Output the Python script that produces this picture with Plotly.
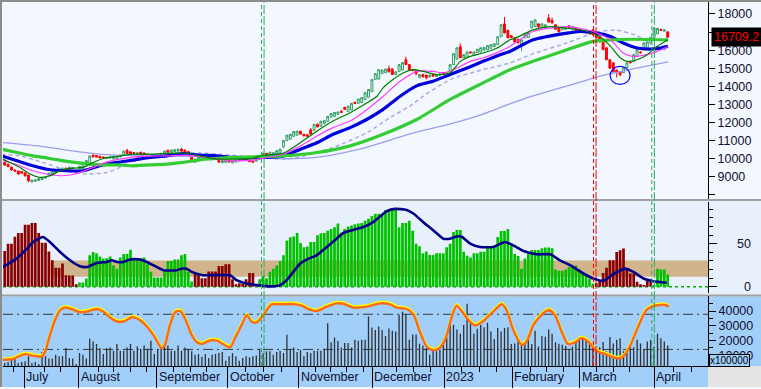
import plotly.graph_objects as go

# ------------------------------------------------------------------ data
open_ = [
9810,9700,9540,9380,9320,9300,9220,9100,8720,8760,
8800,8850,8930,9050,9100,9250,9330,9380,9480,9430,
9450,9320,9440,9450,9600,9700,10200,10180,10140,10100,
10020,10040,9990,10000,10100,10200,10470,10380,10340,10250,
10360,10320,10180,10230,10150,10180,10220,10200,10470,10360,
10400,10420,10530,10480,10400,10090,9810,9980,10000,10120,
10000,10040,10060,9920,9780,9800,9900,9770,9820,9880,
10000,10020,9900,9880,9870,10000,10140,10300,10200,10250,
10300,10350,10640,11000,11080,11240,11300,11520,11350,11330,
11600,11570,11900,11800,11950,12070,12300,12340,12450,12620,
12840,12620,12700,13120,13060,13100,13270,13400,13710,14370,
14400,14700,14750,14980,14950,14650,14810,14900,15470,15200,
14920,14870,14480,14650,14620,14520,14650,14550,14600,14760,
14600,14650,15200,15500,16190,15580,15600,15900,15700,15860,
15900,16000,16020,16100,16200,16300,16740,17450,17100,16800,
16680,16600,16300,16680,16700,17230,17300,17450,17230,17250,
17780,17650,17400,17250,17120,17150,17340,17120,17230,17150,
17100,17010,16980,17120,16950,16740,16460,16130,15470,15300,
14900,14810,14760,15030,15360,15360,15640,15900,16020,16100,
16400,16680,16900,17150,17050,17010]
high = [
9850,9720,9560,9400,9340,9320,9240,9110,8840,8850,
8920,8960,9020,9220,9280,9340,9470,9500,9500,9560,
9540,9340,9600,9620,9920,10170,10230,10200,10160,10120,
10100,10120,10160,10150,10220,10440,10550,10400,10360,10350,
10380,10340,10270,10250,10240,10280,10320,10440,10490,10500,
10530,10550,10600,10500,10420,10110,10000,10100,10150,10140,
10140,10160,10080,9940,9920,9940,9920,9920,9940,9980,
10020,10040,9920,9900,10000,10180,10320,10320,10380,10350,
10470,10550,11020,11320,11370,11520,11540,11540,11370,11350,
11700,11920,11950,12090,12120,12360,12520,12580,12600,12700,
12860,12920,13080,13140,13320,13400,13670,13840,14390,14720,
14940,14920,14970,15150,15000,14820,15220,15330,15640,15220,
14940,14890,14670,14700,14640,14640,14670,14660,14720,14780,
14780,15220,15820,16150,16380,15770,15920,15920,15920,16070,
16150,16170,16270,16320,16370,16760,17420,17830,17120,16820,
16700,16620,16590,16920,16980,17620,17690,17470,17470,17420,
18000,17800,17420,17270,17310,17270,17360,17320,17250,17170,
17120,17030,17000,17140,16970,16760,16480,16150,15490,15320,
14920,14830,15050,15320,15380,15770,16040,15920,16420,16470,
16720,17250,17220,17170,17140,17030]
low = [
9600,9530,9330,9300,9110,9180,9030,8700,8700,8740,
8780,8830,8910,9040,9080,9230,9310,9360,9290,9420,
9430,9240,9420,9430,9580,9680,10080,10070,10020,10020,
10000,10020,9970,9980,10080,10180,10280,10240,10260,10230,
10210,10180,10160,10160,10130,10160,10200,10180,10340,10340,
10380,10400,10400,10360,10280,9900,9790,9960,9980,10030,
9980,10020,9960,9790,9760,9780,9800,9750,9800,9860,
9920,9910,9830,9790,9850,9980,10120,10230,10180,10230,
10280,10330,10620,10980,11060,11220,11280,11340,11240,11220,
11340,11550,11740,11780,11930,12050,12280,12320,12430,12540,
12710,12600,12680,13040,13040,13080,13250,13380,13690,14350,
14380,14680,14730,14780,14630,14630,14790,14880,15180,14900,
14850,14600,14460,14500,14380,14500,14540,14530,14580,14630,
14580,14630,15180,15480,15560,15560,15580,15830,15680,15840,
15880,15980,16000,16080,16180,16280,16720,16930,16660,16680,
16430,16380,15950,16660,16680,17210,17280,17230,17210,17230,
17530,17480,17130,16990,17100,17130,17180,17100,17080,16990,
16980,16940,16880,16830,16680,16440,16000,15450,14980,14750,
14480,14550,14740,15010,15280,15340,15620,15830,16000,16080,
16380,16660,16880,17080,17030,16700]
close = [
9650,9560,9380,9320,9150,9200,9050,8780,8820,8830,
8900,8940,9000,9200,9260,9320,9450,9480,9310,9540,
9520,9260,9580,9600,9900,10150,10100,10090,10040,10040,
10080,10100,10140,10130,10200,10420,10300,10260,10280,10330,
10230,10200,10250,10180,10220,10260,10300,10420,10360,10480,
10500,10530,10420,10380,10300,9920,9980,10080,10130,10050,
10120,10140,9980,9810,9900,9920,9820,9900,9920,9960,
9940,9930,9850,9810,9980,10150,10300,10250,10360,10330,
10450,10530,11000,11300,11350,11500,11520,11360,11260,11240,
11360,11900,11760,12070,12100,12340,12500,12560,12580,12560,
12730,12900,13060,13060,13300,13380,13650,13820,14370,14700,
14920,14900,14950,14800,14650,14800,15200,15310,15200,14920,
14870,14700,14650,14520,14480,14620,14560,14640,14700,14650,
14760,15200,15800,16130,15580,15750,15900,15850,15900,16050,
16130,16150,16250,16300,16350,16740,17400,16950,16680,16700,
16450,16400,16570,16900,16960,17600,17670,17300,17450,17400,
17550,17500,17150,17010,17290,17250,17200,17300,17100,17010,
17000,16960,16900,16850,16700,16460,16020,15470,15000,14810,
14760,14650,15030,15300,15300,15750,16020,15850,16400,16450,
16700,17230,17200,17100,17120,16709.2]
sessions = list(range(len(close)))

# moving averages, sampled (session, value)
ma_short_s = [-1,1.5,4.5,7.4,10.4,13.3,16.3,19.2,23,26,29,33,37.7,42.7,49.5,53.6,57.4,62.4,67.1,73,
              75.1,82,87,91.9,96.6,101.6,106.6,109.5,111.3,114.2,117.2,120.1,123,127,131,134,136.9,
              140.7,144.8,148.6,150.2,155.4,160.4,165.4,170.1,175,178.2,181.1,183.1,186,189,191.9,195.1]
ma_short_v = [10015,9795,9520,9155,8970,9060,9335,9465,9520,9795,10015,10125,10250,10250,10310,10310,
              10160,9980,9980,10015,10160,10310,10895,11535,12080,12545,13090,13455,13915,14375,14740,
              14920,14830,14650,14740,15380,15655,15840,16115,16570,16665,17120,17300,17210,17100,
              16750,16205,15565,15380,15470,15750,16205,16570]
ma_mid_s = [-1,3.6,8.3,12.4,16.3,19.2,22.2,26,30,33.9,39.7,47.7,53.6,59.5,67.1,73,77.1,82,87,91.9,
            96.6,101.6,106.6,111.3,116.3,121.3,126,129,133.1,136.9,140.7,145.7,148.6,155.4,165.4,173,
            178.2,181.9,184.8,188.9,191.9,195.1]
ma_mid_v = [9940,9665,9335,9155,9060,9100,9245,9520,9830,9980,10125,10160,10200,10070,9885,9920,
            10070,10250,10710,11260,11720,12080,12725,13455,14280,14830,14830,14740,15015,15380,
            15565,15930,16205,17030,17300,17030,16570,15840,15655,15750,15930,16205]
ma_blue_s = [-1,3.6,8.3,13.3,18.3,23,28,33,37.7,42.7,47.7,52.4,57.4,62.4,67.1,76,82,87,92,96.6,
             101.6,106.6,111.3,116.3,121.3,126,131,136,140.7,145.7,148.6,155.4,165.4,169.2,174.2,
             178.2,181.9,186,189.8,192.8,195.1]
ma_blue_v = [10160,9885,9610,9390,9335,9335,9610,9795,9920,10070,10160,10290,10200,10160,10070,
             10070,10160,10530,10895,11350,11720,12180,12725,13455,14040,14280,14650,15015,15380,
             15750,15930,16570,16940,17030,16940,16750,16390,16115,16060,16115,16205]
ma_green_s = [-1,3.6,8.3,13.3,18.3,23,28,33,37.7,42.7,47.7,52.4,57.4,62.4,67.1,73,82,92,101.6,111.3,
              121.3,131,140.7,148.6,155.4,165.4,173,178.2,185,195.1]
ma_green_v = [10530,10345,10160,10015,9850,9740,9665,9665,9610,9665,9700,9795,9940,10015,10070,
              10105,10160,10345,10710,11350,12180,13275,14190,14920,15380,16020,16480,16570,16600,16570]
ma_dash_s = [-1,4.5,11.3,17.2,23,30,33.9,37,40.7,49.5,57.4,63.3,69,75.1,82,87,92,96.6,106.6,113.3,
             119.2,123,131,140.7,148.6,155.4,165.4,174.2,180,186,190.4,195.1]
ma_dash_v = [10250,10160,9795,9430,9155,9245,9520,9885,10160,10250,10310,10250,10160,10070,9980,
             10100,10350,10620,11445,12270,12910,13450,14375,14920,15290,15800,16400,17000,17100,
             16800,16300,15950]
ma_long_s = [-1,9.2,19.2,28,38.3,48.6,66.2,75.1,84,92.8,104.6,119.2,131,140.7,148.6,155.4,165.4,
             175.2,184.8,195.1]
ma_long_v = [10900,10720,10450,10260,10170,10150,10120,10050,10000,10100,10540,11370,11920,12470,
             13030,13470,14020,14570,14960,15350]

# middle panel: strength histogram + its average line
strength = [
41.6,50,50,58,62.5,62.5,72,72,74,74,
62.5,51,51,41,30.7,22,22,27,13.4,13,
13,3,5,5,9.6,36.5,40.4,39,35,32.7,
33,35,25,21,34,38,38,43,32,33,
33,34,26,17.5,10.7,10.7,10.7,19.6,30,30,
31.5,31.5,36.5,38,17,6,16,16,10,10,
17.8,17.8,17.8,24,24,26,26,8.7,3,4,
4,8.7,16,16,3,8.7,12.6,10,17.3,21,
24.6,30,36.5,53.8,57.6,58.4,62.3,50.8,46,46.8,
52,52,59.8,62,62.5,65,67,69,73.5,62.8,
67,70,71,72.6,73.5,74,76.5,79,82,84.7,
84.7,84.6,89,90,89,89,69,74,74,76.5,
65,50,47,38.8,41,37,37,38.8,38.8,38.8,
46,50,63.5,66,66,40.6,36,34,38.8,38.8,
40.6,40.6,46,46,46,57.7,64.7,64.7,67,48,
38,35.7,21,32.7,38,42.7,42.7,42.7,44.6,45.7,
45.7,44.6,20,18.6,18.6,20,22.8,24.6,24.6,20,
15.4,15.4,9.6,3.9,4,7,16,22,30.7,30.7,
40.4,42.3,44.3,21,15.4,15.4,5.8,3,2,7,
8.5,2,21,20,20,14.2]
strength_color_runs = [("r", 22), ("g", 34), ("r", 18), ("g", 100), ("r", 17), ("g", 5)]
strength_line_s = [-0.9,3.5,6.5,8.4,11.2,13.3,16.3,19.2,22.1,24.3,27.1,30,31.5,33,34.9,36.9,39.8,
                   41.8,43.7,46.7,50.6,52,53.5,55,58.4,66.3,68.2,71.2,74.1,78.5,81,82.9,84.9,86.9,
                   88.8,91.8,94.7,97.6,99.6,102.5,105.5,108.4,110.4,112.4,114.8,118.2,120.2,123.1,
                   126.1,129,131,133,134.4,136.9,139.8,143.7,147.1,149.6,152.6,156.5,160.4,163.3,
                   166.3,170.2,173.1,176.1,179,182.4,184.9,187.9,190.8,194.7]
strength_line_v = [22.3,32.7,44,52,57.7,52,40.4,30.7,23.8,23,27.7,28.8,30.7,28.8,28.8,31.6,31.6,
                   28.8,25,19.2,19.2,21,20.8,17.3,13.4,13.4,7.7,3.8,1.9,0.5,1.9,7.7,17.3,27,31.6,
                   36.6,46,55.8,62.4,66,69.3,75,81.5,87.7,90.4,89.2,85,75,65.4,55.8,55.8,58.4,58,
                   50,46.2,46.2,52,48,41.5,37.7,37.7,30.7,25,15.4,9.6,6.9,14.6,21.1,17.3,9.6,6.5,4.6]
band_lo, band_hi, band_start = 11.5, 30.5, 13.5

# bottom panel: volume (x100000) + oscillator
volume = [
4660,5340,6890,8040,4660,5340,5800,9190,4660,5340,
4000,12090,9190,7700,7700,10270,9190,9190,14800,8040,
7700,4000,11420,10270,7700,21080,19320,17500,14800,10740,
14800,15270,12970,17500,12970,12970,15270,17500,12970,15950,
14320,16620,14320,19730,10740,13650,14800,17500,16620,12970,
12970,16620,12970,15270,14320,12570,10270,10740,8920,10740,
8040,10270,10740,11420,12090,6200,9190,11420,9190,6200,
8040,9190,8500,9190,9700,14320,11420,12570,12570,10270,
12090,12970,11420,23780,13650,15270,12090,13650,9190,12090,
11420,12970,12970,12970,14320,31690,18850,22000,19730,15270,
18175,18175,15270,20405,19730,20405,20405,36220,28780,27160,
29460,27160,23000,28100,26500,26000,37500,39500,38000,20500,
24000,24000,17700,16620,14800,10270,13650,12570,13650,17000,
22000,32000,30500,27500,24500,30500,45000,32000,24500,28000,
30500,29000,32000,26000,21000,28500,26000,28500,29000,17500,
18000,20400,18000,18000,21500,17500,26500,15900,23000,22500,
27500,24500,18800,17700,17000,16200,14300,15900,19000,22300,
21500,20400,20000,18000,13650,15300,19000,12600,22300,18000,
20400,21500,12600,11400,16600,15300,20400,18000,13650,19300,
20400,15900,24500,21500,19300,16600]
osc_s = [-0.9,2.5,4,6,8.4,10.9,11.9,13.3,14.8,16.3,17.7,19.7,22.1,24.1,27.1,29,31,33,34.9,37.4,
         38.8,40.3,41.8,43.7,46.2,47.1,48.6,50.1,51.6,53,55,56.5,57.9,60.4,62.4,64.3,66.3,67.7,
         69.7,71.2,72.6,74.1,76.1,78.5,81,84.9,87.4,89.9,91.8,94.7,97.6,99.6,102.5,106.5,110.4,
         113.3,115.3,118.2,120.2,122.1,124.1,125.6,127.5,129.5,131.5,132.9,134.4,136.4,138.3,
         140.8,143.2,146.2,147.6,149.6,152.1,153.5,155.5,157.4,159.9,161.8,163.8,165.7,168.2,
         169.6,171.6,174,177.2,179.7,181.6,183.6,186.1,188.5,190.3,192.8,194.3,195.3]
osc_v = [2.4,3.6,8,12,9.2,8,16.6,44.8,70.3,87.3,91.3,89,83.4,84.6,89,84.6,74.4,67.6,67.6,74.9,
         73.2,67.6,59,44.8,22.2,27.8,61.8,83.4,85.6,73.2,44.8,32.4,29.5,35.3,35,29,23.4,39.2,
         61.8,78.8,67.6,66,78.8,97,97,97.3,94.7,87.3,85.6,93,98.6,98,91.3,93,98.6,97,91.3,89,80,
         50.6,25.1,19.4,20.5,36.3,76.1,94.7,85.6,70.3,60.8,68.6,81.7,97,87.3,53.3,27.8,33.6,61.8,
         76.1,87.3,78.8,50.6,29,33.6,39.2,33.6,17.7,10.9,5.3,6.4,22.2,56.2,85.6,93,95.8,95.8,93]
osc_levels = [80, 20]

# axis / annotation data
month_starts = [5.8, 21.8, 44.7, 65.6, 86.5, 108.1, 129.3, 149.3, 169.2, 191.1]
month_labels = ["July", "August", "September", "October", "November", "December",
                "2023", "February", "March", "April"]
week_ticks = [2.5, 11.6, 16.5, 27.5, 31.9, 36.9, 41.8, 49.6, 54.5, 59.4, 70.7, 76.1, 81.5, 91.3,
              95.7, 100.6, 105.5, 115.3, 120.2, 125.3, 134.4, 139.5, 144.7, 154.5, 159.4, 164.3,
              174.1, 179, 183.9, 196.6, 202.1]
price_ticks = [8000, 9000, 10000, 11000, 12000, 13000, 14000, 15000, 16000, 17000, 18000]
price_hidden = [8000, 17000]          # tick labels not shown (hidden by frame / price box)
vol_ticks = [10000, 20000, 30000, 40000]
strength_ticks = [0, 50]
buy_signals = [75.9, 190.7]
sell_signals = [173.55]
circle_session, circle_price = 181, 14600
last_price = close[-1]

# ------------------------------------------------------------------ layout helpers
W, H = 761, 389
ML, MR, MT, MB = 3, 53, 2, 21
PW, PH = W - ML - MR, H - MT - MB
X_MAX = -0.5 + PW / 3.4


def xp(px):
    return (px - ML) / PW


def yp(py):
    return (H - MB - py) / PH


TOP_DOM = [yp(200), 1.0]
MID_DOM = [yp(295), yp(203)]
BOT_DOM = [0.0, yp(298)]

FONT = "Liberation Sans, Arial, sans-serif"
TXT = "#101030"

fig = go.Figure()

# candles
fig.add_trace(go.Candlestick(
    x=sessions, open=open_, high=high, low=low, close=close,
    xaxis="x3", yaxis="y", whiskerwidth=0,
    increasing=dict(line=dict(color="#2f9e62", width=1), fillcolor="#f3f8ff"),
    decreasing=dict(line=dict(color="#ff0000", width=1), fillcolor="#ff0000"),
    hoverinfo="skip"))


def ma(xs, ys, color, width, dash="solid"):
    fig.add_trace(go.Scatter(x=xs, y=ys, mode="lines", xaxis="x3", yaxis="y",
                             line=dict(color=color, width=width, dash=dash, shape="spline", smoothing=0.6),
                             hoverinfo="skip"))


ma(ma_long_s, ma_long_v, "#9c9cf0", 1.3)
ma(ma_dash_s, ma_dash_v, "#a9a9e6", 1.5, "4px,3px")
ma(ma_blue_s, ma_blue_v, "#0000dd", 3.2)
ma(ma_green_s, ma_green_v, "#33cc33", 3.2)
ma(ma_mid_s, ma_mid_v, "#ff3cff", 1.2)
ma(ma_short_s, ma_short_v, "#007a00", 1.2)

# middle histogram
palette = {"r": "#880000", "g": "#00c000"}
bar_colors = []
for code, n in strength_color_runs:
    bar_colors += [palette[code]] * n
fig.add_trace(go.Bar(x=sessions, y=strength, xaxis="x2", yaxis="y2", width=0.8,
                     marker=dict(color=bar_colors, line=dict(width=0)), hoverinfo="skip"))
fig.add_trace(go.Scatter(x=strength_line_s, y=strength_line_v, xaxis="x2", yaxis="y2", mode="lines",
                         line=dict(color="#000088", width=2.6, shape="spline", smoothing=0.5),
                         hoverinfo="skip"))

# bottom volume + oscillator (shadow on y4, main line on y5 so it is drawn on top)
fig.add_trace(go.Bar(x=sessions, y=volume, xaxis="x", yaxis="y3", width=0.38,
                     marker=dict(color="#303030", line=dict(width=0)), hoverinfo="skip"))
fig.add_trace(go.Scatter(x=osc_s, y=osc_v, xaxis="x", yaxis="y4", mode="lines",
                         line=dict(color="#ffff00", width=2.4, shape="spline", smoothing=0.7),
                         hoverinfo="skip"))
fig.add_trace(go.Scatter(x=osc_s, y=osc_v, xaxis="x", yaxis="y5", mode="lines",
                         line=dict(color="#ff6a10", width=2.4, shape="spline", smoothing=0.7),
                         hoverinfo="skip"))

# ------------------------------------------------------------------ shapes
shapes = []


def prect(px0, py0, px1, py1, color):
    shapes.append(dict(type="rect", xref="paper", yref="paper", x0=xp(px0), x1=xp(px1),
                       y0=yp(py1), y1=yp(py0), fillcolor=color, line=dict(width=0), layer="below"))


prect(0, 202, W, 296, "#e8f1fb")
prect(0, 298, W, H, "#a2cffa")
prect(708, 368, W, H, "#e4e4e4")
prect(0, 200, W, 202, "#a0a0a0")
prect(0, 296, W, 298, "#a0a0a0")
prect(0, 0, 2, H, "#8c8c8c")
prect(0, 0, W, 2, "#8c8c8c")

shapes.append(dict(type="rect", xref="x2", yref="y2", x0=band_start, x1=X_MAX, y0=band_lo, y1=band_hi,
                   fillcolor="#d2b48c", line=dict(width=0), layer="below"))
shapes.append(dict(type="line", xref="paper", yref="y2", x0=0, x1=1, y0=0, y1=0,
                   line=dict(color="#00b000", width=1.5, dash="dot"), layer="below"))
for lv in osc_levels:
    shapes.append(dict(type="line", xref="paper", yref="y5", x0=0, x1=1, y0=lv, y1=lv,
                       line=dict(color="#383838", width=1, dash="10px,4px,2px,4px"), layer="below"))


def signal(s, color):
    shapes.append(dict(type="line", xref="x", yref="paper", x0=s - 0.38, x1=s - 0.38, y0=0, y1=1,
                       line=dict(color=color, width=1, dash="4px,3px"), layer="above"))
    shapes.append(dict(type="line", xref="x", yref="paper", x0=s + 0.38, x1=s + 0.38, y0=0, y1=1,
                       line=dict(color=color, width=1, dash="9px,2px"), layer="above"))


for s in buy_signals:
    signal(s, "#2fa865")
for s in sell_signals:
    signal(s, "#ff0000")

shapes.append(dict(type="circle", xref="x3", yref="y", xsizemode="pixel", ysizemode="pixel",
                   xanchor=circle_session, yanchor=circle_price, x0=-10, x1=10, y0=-9, y1=9,
                   line=dict(color="#0000ff", width=1.2), layer="above"))

# ------------------------------------------------------------------ annotations
ann = []
for s, lab in zip(month_starts, month_labels):
    ann.append(dict(x=s, xref="x", y=yp(379.5), yref="paper", text=lab, showarrow=False,
                    xanchor="left", yanchor="middle", xshift=0,
                    font=dict(family=FONT, size=12.5, color=TXT)))
for v in strength_ticks:
    ann.append(dict(x=xp(753), xref="paper", y=v, yref="y2", text=str(v), showarrow=False,
                    xanchor="right", yanchor="middle", font=dict(family=FONT, size=12.5, color=TXT)))
ann.append(dict(x=xp(711), xref="paper", y=last_price, yref="y", text=f"{last_price:.1f}",
                showarrow=False, xanchor="left", yanchor="middle", bgcolor="#000000",
                borderpad=2, font=dict(family=FONT, size=12.5, color="#ff0000")))
ann.append(dict(x=xp(709), xref="paper", y=yp(362), yref="paper", text="x100000", showarrow=False,
                xanchor="left", yanchor="middle", bgcolor="#a2cffa", bordercolor="#000000",
                borderwidth=1, borderpad=0, font=dict(family=FONT, size=10, color="#000000")))

axis_common = dict(showgrid=False, zeroline=False)
fig.update_layout(
    width=W, height=H, autosize=False,
    margin=dict(l=ML, r=MR, t=MT, b=MB, pad=0),
    paper_bgcolor="#f3f8ff", plot_bgcolor="rgba(0,0,0,0)",
    showlegend=False, barmode="overlay", boxgap=0.2,
    shapes=shapes, annotations=ann,
    xaxis=dict(anchor="y3", domain=[0, 1], range=[-0.5, X_MAX], showline=True, linecolor="#000",
               linewidth=1, ticks="outside", tickvals=month_starts, ticklen=21, tickcolor="#000",
               showticklabels=False,
               minor=dict(tickmode="array", tickvals=week_ticks, ticks="outside", ticklen=5,
                          tickcolor="#000", showgrid=False), **axis_common),
    xaxis2=dict(anchor="y2", matches="x", range=[-0.5, X_MAX], visible=False, **axis_common),
    xaxis3=dict(anchor="y", matches="x", range=[-0.5, X_MAX], visible=False,
                rangeslider=dict(visible=False), **axis_common),
    yaxis=dict(anchor="x3", domain=TOP_DOM, side="right", range=[7780, 18659],
               tickvals=price_ticks,
               ticktext=["" if v in price_hidden else str(v) for v in price_ticks],
               ticks="outside", ticklen=6, tickcolor="#000", showline=True, linecolor="#000",
               tickfont=dict(family=FONT, size=12.5, color=TXT), **axis_common),
    yaxis2=dict(anchor="x2", domain=MID_DOM, side="right", range=[-7.7, 98.5],
                tickvals=strength_ticks, ticks="outside", ticklen=8, tickcolor="#000",
                showticklabels=False, showline=True, linecolor="#000",
                minor=dict(tickmode="linear", tick0=0, dtick=10, ticks="outside", ticklen=4,
                           tickcolor="#000", showgrid=False), **axis_common),
    yaxis3=dict(anchor="x", domain=BOT_DOM, side="right", range=[2635, 49932],
                tickvals=vol_ticks, ticktext=[str(v) for v in vol_ticks],
                ticks="outside", ticklen=7, tickcolor="#000",
                showline=True, linecolor="#000",
                tickfont=dict(family=FONT, size=12.5, color=TXT),
                minor=dict(tickmode="linear", tick0=0, dtick=5000, ticks="outside", ticklen=4,
                           tickcolor="#000", showgrid=False), **axis_common),
    yaxis4=dict(overlaying="y3", anchor="x", range=[-10.6, 108.2], visible=False, **axis_common),
    yaxis5=dict(overlaying="y3", anchor="x", range=[-8.3, 110.5], visible=False, **axis_common),
)

fig.write_html("out.html", config={"displayModeBar": False, "staticPlot": True},
               post_script="document.body.style.margin='0px';")
